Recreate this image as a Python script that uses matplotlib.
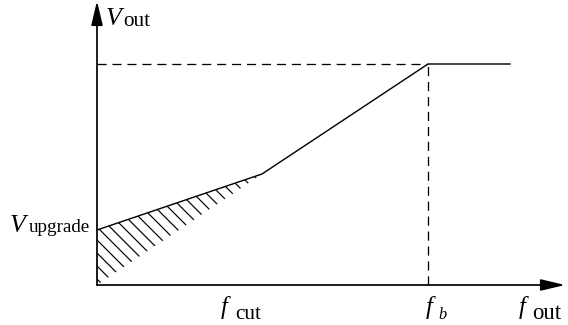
import matplotlib
matplotlib.use("Agg")
import matplotlib.pyplot as plt
from matplotlib.patches import Polygon

plt.rcParams['font.family'] = 'Liberation Serif'
plt.rcParams['hatch.linewidth'] = 1.1

# characteristic points (arbitrary units)
f_pts = [0, 165, 331, 413]      # 0, f_cut, f_b, end of flat part
v_pts = [55, 111, 221, 221]     # V_upgrade, V at f_cut, V_b, V_b
x_max = 468
y_max = 284

f_cut, f_b = f_pts[1], f_pts[2]
v_up, v_cut, v_b = v_pts[0], v_pts[1], v_pts[2]

dpi = 78
fig = plt.figure(figsize=(568 / dpi, 325 / dpi), dpi=dpi)
ax = fig.add_axes([0, 0, 1, 1])
ax.set_xlim(-97, 471)
ax.set_ylim(-40, 285)
ax.axis('off')

# axes with arrows
arrow = dict(arrowstyle='-|>,head_length=1.05,head_width=0.25', mutation_scale=18,
             lw=1.6, color='black', shrinkA=0, shrinkB=0)
ax.annotate('', xy=(x_max, 0), xytext=(0, 0), arrowprops=arrow)
ax.annotate('', xy=(0, y_max), xytext=(0, 0), arrowprops=arrow)

# hatched area
tri = Polygon([(0, 0), (0, v_up), (f_cut, v_cut)], closed=True, fill=False,
              hatch='\\\\', lw=0, edgecolor='black')
ax.add_patch(tri)

# characteristic curve
ax.plot(f_pts, v_pts, color='black', lw=1.3)

# dashed guides
ax.plot([0, f_b], [v_b, v_b], color='black', lw=1.2, dashes=(7, 4.5))
ax.plot([f_b, f_b], [0, v_b], color='black', lw=1.2, dashes=(7, 4.5))


def label(main, sub, pm, ps, size_m, size_s, sub_style='normal', sub_ha='left'):
    ax.text(pm[0], pm[1], main, fontsize=size_m, fontstyle='italic',
            ha='left', va='baseline')
    ax.text(ps[0], ps[1], sub, fontsize=size_s, fontstyle=sub_style,
            ha=sub_ha, va='baseline')


label('V', 'out', (9, 260), (26, 259), 24, 19.5)
label('V', 'upgrade', (-87, 53), (-7, 53), 24, 17.5, sub_ha='right')
label('f', 'cut', (f_cut - 41, -29), (f_cut - 27, -34), 23, 19.5)
label('f', 'b', (f_b - 2, -29), (f_b + 10, -34), 23, 15, sub_style='italic')
label('f', 'out', (x_max - 46, -29), (x_max - 33, -34), 23, 21)

fig.savefig('out.png', dpi=dpi)
